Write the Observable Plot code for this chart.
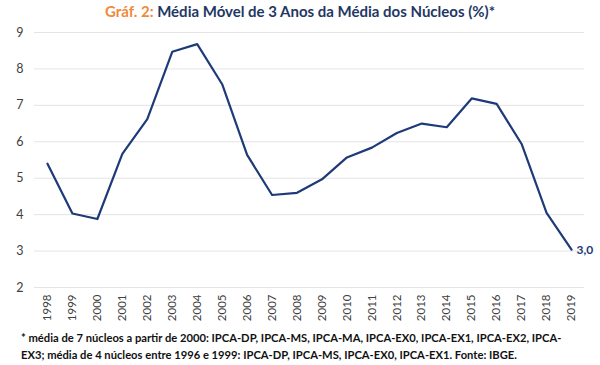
<!DOCTYPE html>
<html>
<head>
<meta charset="utf-8">
<script src="https://cdn.jsdelivr.net/npm/d3@7"></script>
<script src="https://cdn.jsdelivr.net/npm/@observablehq/plot@0.6"></script>
<style>
  html, body { margin: 0; padding: 0; background: #fff; }
  body { width: 600px; height: 365px; overflow: hidden; font-family: Lato, "Open Sans", sans-serif; }
  #title { height: 22px; line-height: 23px; text-align: center; font-weight: bold; font-size: 15px; color: #1F3864; }
  #title .lab { color: #F08A3A; }
  #chart svg { display: block; }
  #note { margin: 6px 0 0 21px; width: 560px; font-weight: bold; font-size: 11.2px; line-height: 17px; color: #111; }
</style>
</head>
<body>
<div id="title"><span class="lab">Gráf. 2:</span> Média Móvel de 3 Anos da Média dos Núcleos (%)*</div>
<div id="chart"></div>
<div id="note">* média de 7 núcleos a partir de 2000: IPCA-DP, IPCA-MS, IPCA-MA, IPCA-EX0, IPCA-EX1, IPCA-EX2, IPCA-EX3; média de 4 núcleos entre 1996 e 1999: IPCA-DP, IPCA-MS, IPCA-EX0, IPCA-EX1. Fonte: IBGE.</div>
<script>
const years = ["1998","1999","2000","2001","2002","2003","2004","2005","2006","2007","2008","2009","2010","2011","2012","2013","2014","2015","2016","2017","2018","2019"];
const values = [5.40, 4.03, 3.88, 5.67, 6.62, 8.47, 8.68, 7.58, 5.64, 4.54, 4.60, 4.97, 5.57, 5.84, 6.24, 6.50, 6.40, 7.19, 7.04, 5.94, 4.05, 3.04];
const yTicks = [2, 3, 4, 5, 6, 7, 8, 9];
const lastLabel = "3,0";

const data = years.map((y, i) => ({year: y, value: values[i]}));
const navy = "#1F3A78";

const chart = Plot.plot({
  width: 600,
  height: 301,
  marginTop: 10,
  marginBottom: 36,
  marginLeft: 34,
  marginRight: 16,
  style: {fontFamily: "Lato, 'Open Sans', sans-serif", fontSize: "12px", color: "#404040", background: "#fff"},
  x: {type: "point", domain: years, padding: 0.52, round: false, label: null},
  y: {domain: [2, 9], label: null},
  marks: [
    Plot.ruleY(yTicks, {stroke: "#e4e4e4", strokeWidth: 1}),
    Plot.axisY({ticks: yTicks, tickFormat: d => String(d), tickSize: 0, tickPadding: 11, fontSize: 12.5, label: null}),
    Plot.axisX({tickSize: 0, tickPadding: 7, tickRotate: -90, fontSize: 11.5, label: null}),
    Plot.line(data, {x: "year", y: "value", stroke: navy, strokeWidth: 2.2, curve: "linear"}),
    Plot.text([data[data.length - 1]], {x: "year", y: "value", text: () => lastLabel, textAnchor: "start", dx: 5, dy: 1, fill: navy, fontWeight: "bold", fontSize: 12})
  ]
});
document.getElementById("chart").appendChild(chart);
</script>
</body>
</html>
